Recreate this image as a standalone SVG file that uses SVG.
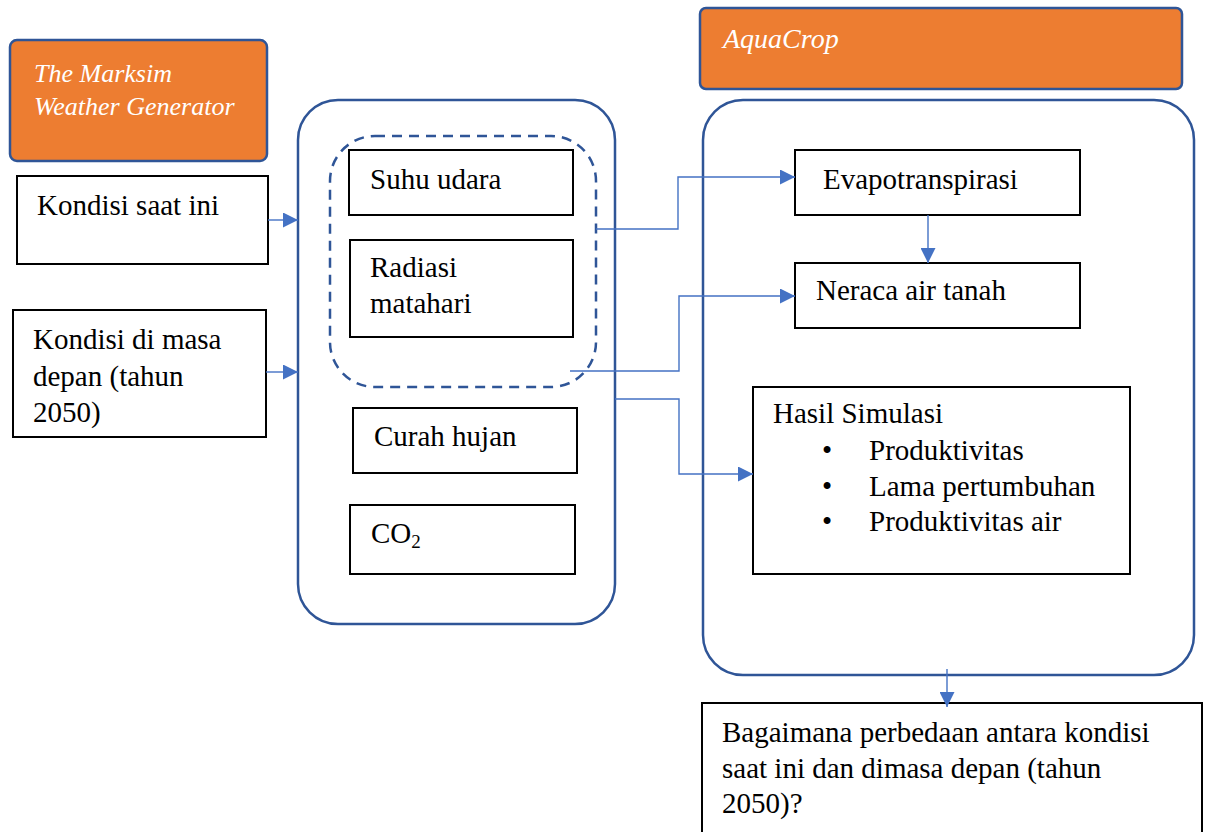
<svg xmlns="http://www.w3.org/2000/svg" width="1208" height="832" viewBox="0 0 1208 832">
<defs>
<marker id="arr" markerUnits="userSpaceOnUse" markerWidth="15" markerHeight="15" refX="15" refY="7.5" orient="auto">
<path d="M0,0 L15,7.5 L0,15 z" fill="#4472C4"/>
</marker>
<style>
.box{fill:#fff;stroke:#000;stroke-width:2}
.title{fill:#ED7D31;stroke:#2F5597;stroke-width:2.5}
.group{fill:none;stroke:#2F5597;stroke-width:2.5}
.dash{fill:none;stroke:#2F5597;stroke-width:2.5;stroke-dasharray:10 7}
.t{font-size:29px;fill:#000}
.ti{font-style:italic;fill:#fff}
.conn{fill:none;stroke:#4472C4;stroke-width:1.4}
</style>
</defs>
<rect width="1208" height="832" fill="#fff"/>
<g font-family="Liberation Serif, Tinos, Times New Roman, DejaVu Serif, serif">
<g id="marksim">
<rect class="title" x="10" y="40" width="257" height="121" rx="7"/>
<text class="ti" font-size="26" x="34" y="82">The Marksim</text>
<text class="ti" font-size="26" x="34" y="115">Weather Generator</text>
</g>
<g id="kondisi-saat-ini">
<rect class="box" x="17" y="176" width="251" height="88"/>
<text class="t" x="37" y="215">Kondisi saat ini</text>
</g>
<g id="kondisi-masa-depan">
<rect class="box" x="13" y="310" width="253" height="127"/>
<text class="t" x="33" y="349">Kondisi di masa</text>
<text class="t" x="33" y="386">depan (tahun</text>
<text class="t" x="33" y="422">2050)</text>
</g>
<g id="iklim-group">
<rect class="group" x="298" y="100" width="317" height="524" rx="40"/>
</g>
<g id="suhu-radiasi-group">
<rect class="dash" x="330" y="136" width="266" height="251" rx="45"/>
</g>
<g id="suhu-udara">
<rect class="box" x="349" y="150" width="224" height="65"/>
<text class="t" x="370" y="189">Suhu udara</text>
</g>
<g id="radiasi">
<rect class="box" x="350" y="240" width="223" height="97"/>
<text class="t" x="370" y="277">Radiasi</text>
<text class="t" x="370" y="313">matahari</text>
</g>
<g id="curah-hujan">
<rect class="box" x="353" y="408" width="224" height="65"/>
<text class="t" x="374" y="446">Curah hujan</text>
</g>
<g id="co2">
<rect class="box" x="350" y="505" width="225" height="69"/>
<text class="t" x="371" y="543">CO<tspan font-size="19" dy="5">2</tspan></text>
</g>
<g id="aquacrop">
<rect class="title" x="700" y="8" width="482" height="81" rx="6"/>
<text class="ti" font-size="28" x="723" y="48">AquaCrop</text>
</g>
<g id="aquacrop-group">
<rect class="group" x="703" y="100" width="491" height="575" rx="40"/>
</g>
<g id="evapotranspirasi">
<rect class="box" x="795" y="150" width="285" height="65"/>
<text class="t" x="823" y="189">Evapotranspirasi</text>
</g>
<g id="neraca-air">
<rect class="box" x="795" y="263" width="285" height="65"/>
<text class="t" x="816" y="300">Neraca air tanah</text>
</g>
<g id="hasil-simulasi">
<rect class="box" x="753" y="387" width="377" height="187"/>
<text class="t" x="773" y="423">Hasil Simulasi</text>
<text class="t" x="822" y="460">•</text>
<text class="t" x="869" y="460">Produktivitas</text>
<text class="t" x="822" y="496">•</text>
<text class="t" x="869" y="496">Lama pertumbuhan</text>
<text class="t" x="822" y="531">•</text>
<text class="t" x="869" y="531">Produktivitas air</text>
</g>
<g id="pertanyaan">
<rect class="box" x="702" y="703" width="500" height="140"/>
<text class="t" x="722" y="742">Bagaimana perbedaan antara kondisi</text>
<text class="t" x="722" y="778">saat ini dan dimasa depan (tahun</text>
<text class="t" x="722" y="813">2050)?</text>
</g>
</g>
<g id="connectors">
<path class="conn" d="M268,220 H298" marker-end="url(#arr)"/>
<path class="conn" d="M266,372 H298" marker-end="url(#arr)"/>
<path class="conn" d="M596,229 H678 V177 H795" marker-end="url(#arr)"/>
<path class="conn" d="M570,371 H679 V296 H795" marker-end="url(#arr)"/>
<path class="conn" d="M615,399 H679 V474 H753" marker-end="url(#arr)"/>
<path class="conn" d="M928,215 V263" marker-end="url(#arr)"/>
<path class="conn" d="M947,669 V707" marker-end="url(#arr)"/>
</g>
</svg>
